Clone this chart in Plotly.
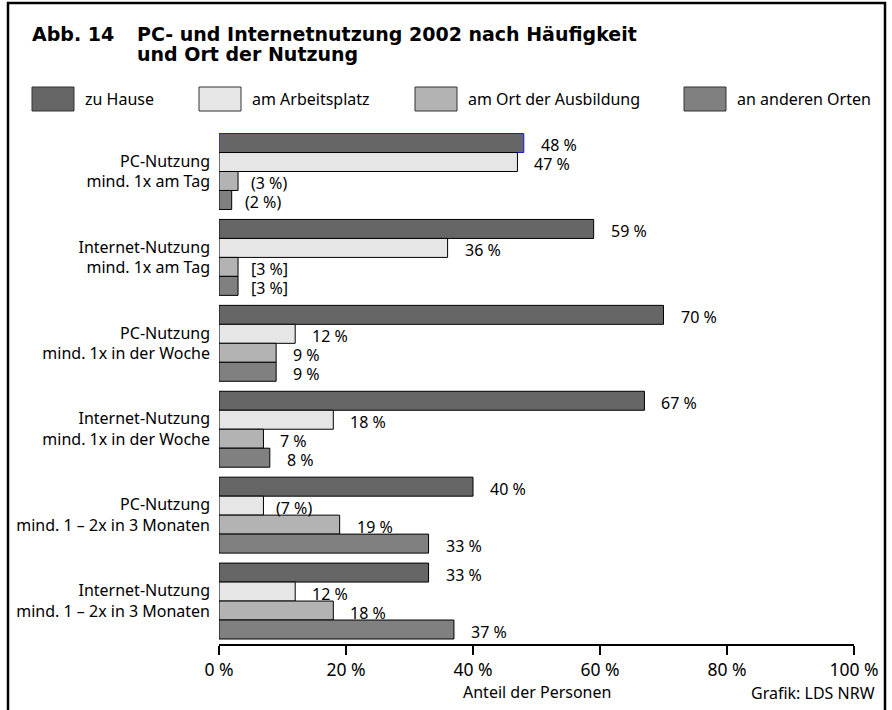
import plotly.graph_objects as go

# ---- data ----
categories = [
    "PC-Nutzung<br>mind. 1x am Tag",
    "Internet-Nutzung<br>mind. 1x am Tag",
    "PC-Nutzung<br>mind. 1x in der Woche",
    "Internet-Nutzung<br>mind. 1x in der Woche",
    "PC-Nutzung<br>mind. 1 – 2x in 3 Monaten",
    "Internet-Nutzung<br>mind. 1 – 2x in 3 Monaten",
]
series_names = ["zu Hause", "am Arbeitsplatz", "am Ort der Ausbildung", "an anderen Orten"]
zu_hause = [48, 59, 70, 67, 40, 33]
arbeitsplatz = [47, 36, 12, 18, 7, 12]
ausbildung = [3, 3, 9, 7, 19, 18]
andere_orte = [2, 3, 9, 8, 33, 37]
labels_zu_hause = ["48 %", "59 %", "70 %", "67 %", "40 %", "33 %"]
labels_arbeitsplatz = ["47 %", "36 %", "12 %", "18 %", "(7 %)", "12 %"]
labels_ausbildung = ["(3 %)", "[3 %]", "9 %", "7 %", "19 %", "18 %"]
labels_andere_orte = ["(2 %)", "[3 %]", "9 %", "8 %", "33 %", "37 %"]
x_ticks = [0, 20, 40, 60, 80, 100]
x_tick_labels = ["0 %", "20 %", "40 %", "60 %", "80 %", "100 %"]

series_values = [zu_hause, arbeitsplatz, ausbildung, andere_orte]
series_labels = [labels_zu_hause, labels_arbeitsplatz, labels_ausbildung, labels_andere_orte]
colors = ["#666666", "#e6e6e6", "#b3b3b3", "#808080"]

W, H = 892, 710
ML, MR, MT, MB = 219, 38, 128, 66
PW, PH = W - ML - MR, H - MT - MB
FONT = "Noto Sans, Open Sans, sans-serif"
TFONT = "DejaVu Sans, sans-serif"


def px(xp):
    return (xp - ML) / PW


def py(yp):
    return (H - MB - yp) / PH


fig = go.Figure()
for i, (name, vals) in enumerate(zip(series_names, series_values)):
    line_colors = ["#000000"] * len(vals)
    if i == 0:
        line_colors[0] = "#1a1ad0"
    fig.add_trace(go.Bar(
        name=name, y=categories, x=vals, orientation="h",
        marker=dict(color=colors[i], line=dict(color=line_colors, width=1)),
        showlegend=False, hoverinfo="skip",
    ))

annotations = []
bar_h = PH / len(categories) * (1 - 10 / 86) / 4
for i, labs in enumerate(series_labels):
    for cat, v, lab in zip(categories, series_values[i], labs):
        annotations.append(dict(
            x=v, y=cat, xref="x", yref="y", text=lab, showarrow=False,
            xanchor="left", yanchor="middle",
            xshift=11 if lab[0] in "([" else 15,
            yshift=(1.5 - i) * bar_h - 2,
            font=dict(family=FONT, size=16, color="#000000"),
        ))

# title
title_font = dict(family=TFONT, size=19, color="#000000")
annotations.append(dict(x=px(30), y=py(34), xref="paper", yref="paper", text="<b>Abb. 14</b>",
                        showarrow=False, xanchor="left", yanchor="middle", font=title_font))
annotations.append(dict(x=px(135), y=py(34), xref="paper", yref="paper",
                        text="<b>PC- und Internetnutzung 2002 nach Häufigkeit</b>",
                        showarrow=False, xanchor="left", yanchor="middle", font=title_font))
annotations.append(dict(x=px(135), y=py(54), xref="paper", yref="paper",
                        text="<b>und Ort der Nutzung</b>",
                        showarrow=False, xanchor="left", yanchor="middle", font=title_font))

# legend
shapes = []
legend_box_x = [32, 199, 415, 684]
for bx, name, col in zip(legend_box_x, series_names, colors):
    shapes.append(dict(type="rect", xref="paper", yref="paper",
                       x0=px(bx), x1=px(bx + 42), y0=py(111), y1=py(87),
                       fillcolor=col, line=dict(color="#333333", width=1)))
    annotations.append(dict(x=px(bx + 51), y=py(99), xref="paper", yref="paper", text=name,
                            showarrow=False, xanchor="left", yanchor="middle",
                            font=dict(family=FONT, size=16, color="#000000")))

# footer texts
annotations.append(dict(x=0.5, y=py(692), xref="paper", yref="paper", text="Anteil der Personen",
                        showarrow=False, xanchor="center", yanchor="middle",
                        font=dict(family=FONT, size=16, color="#000000")))
annotations.append(dict(x=px(877), y=py(693), xref="paper", yref="paper", text="Grafik: LDS NRW",
                        showarrow=False, xanchor="right", yanchor="middle",
                        font=dict(family=FONT, size=16, color="#000000")))

# frame
shapes.append(dict(type="path", xref="paper", yref="paper",
                   path=f"M {px(8)} {py(730)} L {px(8)} {py(3)} L {px(885)} {py(3)} L {px(885)} {py(730)}",
                   line=dict(color="#000000", width=2.5)))

fig.update_layout(
    width=W, height=H,
    margin=dict(l=ML, r=MR, t=MT, b=MB, pad=0),
    paper_bgcolor="white", plot_bgcolor="white",
    barmode="group", bargap=10 / 86, bargroupgap=0,
    annotations=annotations, shapes=shapes,
    font=dict(family=FONT, color="#000000"),
    xaxis=dict(range=[0, 100], tickvals=x_ticks, ticktext=x_tick_labels, showgrid=False, zeroline=False,
               showline=True, linecolor="#000000", linewidth=1.5,
               ticks="outside", ticklen=9, tickwidth=1.5, tickcolor="#000000",
               ticklabelstandoff=0,
               tickfont=dict(family=FONT, size=17.5, color="#000000")),
    yaxis=dict(autorange="reversed", showgrid=False, zeroline=False, showline=False,
               ticks="", ticklabelstandoff=8,
               tickfont=dict(family=FONT, size=16, color="#000000")),
)

fig.write_html(
    "out.html",
    config={"displayModeBar": False},
    post_script="document.body.style.margin='0px';document.body.style.overflow='hidden';",
)
